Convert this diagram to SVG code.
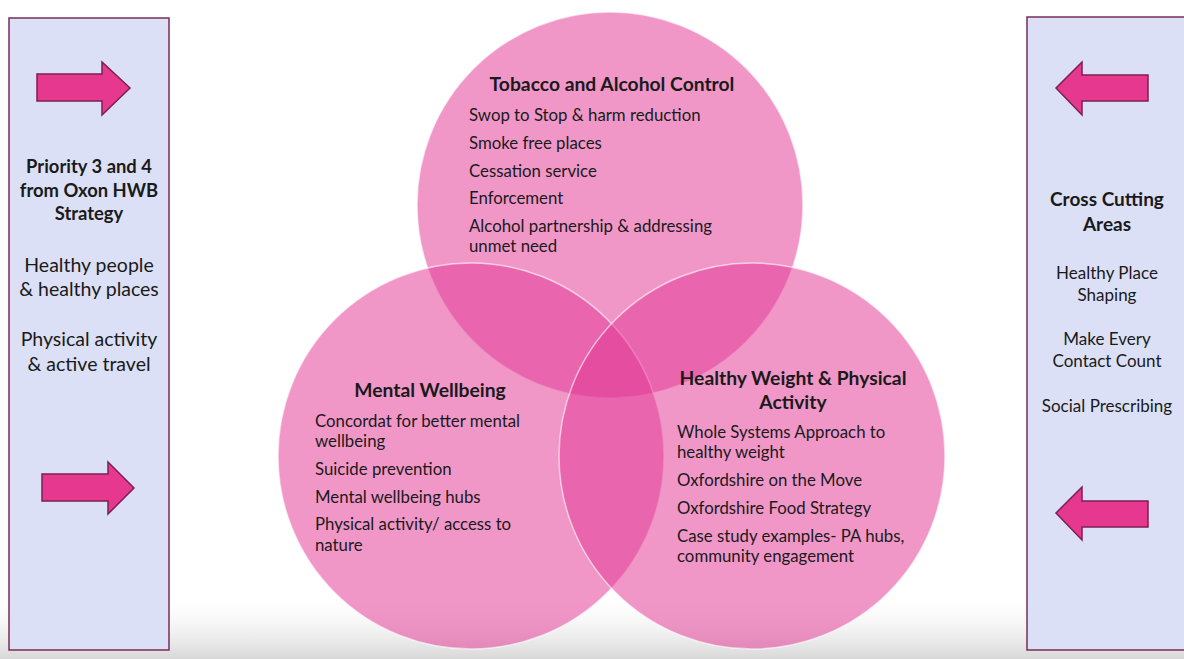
<svg xmlns="http://www.w3.org/2000/svg" width="1184" height="659" viewBox="0 0 1184 659">
<defs>
<style>
.panel{fill:#dbe0f6;stroke:#7a2d55;stroke-width:1.5}
.venn{fill:rgb(226,55,150);fill-opacity:0.52;stroke:#ffffff;stroke-opacity:0.6;stroke-width:1.5}
.arrow{fill:#e6388e;stroke:#7c1f52;stroke-width:1.5;stroke-linejoin:miter}
text{font-family:Lato,"Open Sans","Liberation Sans",sans-serif;fill:#1a1a1a}
.t{font-size:19.3px;font-weight:bold;text-anchor:middle}
.i{font-size:16.8px}
.p{font-size:19.5px;text-anchor:middle}
.pb{font-size:18.4px;font-weight:bold;text-anchor:middle}
.r{font-size:17px;text-anchor:middle}
.rb{font-size:19px;font-weight:bold;text-anchor:middle}
</style>
<linearGradient id="floor" x1="0" y1="0" x2="0" y2="1">
<stop offset="0" stop-color="#ffffff" stop-opacity="0"/>
<stop offset="1" stop-color="#d8d8d8"/>
</linearGradient>
</defs>
<rect x="0" y="0" width="1184" height="659" fill="#ffffff"/>
<rect x="0" y="590" width="1184" height="69" fill="url(#floor)"/>

<g id="left-panel">
<rect class="panel" x="9" y="18" width="160" height="632"/>
<text class="pb" x="89" y="173">Priority 3 and 4</text>
<text class="pb" x="89" y="197">from Oxon HWB</text>
<text class="pb" x="89" y="220">Strategy</text>
<text class="p" x="89" y="272">Healthy people</text>
<text class="p" x="89" y="296">&amp; healthy places</text>
<text class="p" x="89" y="346">Physical activity</text>
<text class="p" x="89" y="371">&amp; active travel</text>
</g>

<g id="right-panel">
<rect class="panel" x="1027" y="17" width="170" height="633"/>
<text class="rb" x="1107" y="206">Cross Cutting</text>
<text class="rb" x="1107" y="231">Areas</text>
<text class="r" x="1107" y="279">Healthy Place</text>
<text class="r" x="1107" y="301">Shaping</text>
<text class="r" x="1107" y="345">Make Every</text>
<text class="r" x="1107" y="367">Contact Count</text>
<text class="r" x="1107" y="412">Social Prescribing</text>
</g>

<g id="circles">
<circle id="c-tobacco" class="venn" cx="610" cy="205" r="193"/>
<circle id="c-mental" class="venn" cx="471" cy="456" r="193"/>
<circle id="c-weight" class="venn" cx="752" cy="456" r="193"/>
</g>

<g id="tobacco">
<text class="t" x="612" y="91">Tobacco and Alcohol Control</text>
<text class="i" x="469" y="121">Swop to Stop &amp; harm reduction</text>
<text class="i" x="469" y="149">Smoke free places</text>
<text class="i" x="469" y="177">Cessation service</text>
<text class="i" x="469" y="204">Enforcement</text>
<text class="i" x="469" y="232">Alcohol partnership &amp; addressing</text>
<text class="i" x="469" y="252">unmet need</text>
</g>

<g id="mental">
<text class="t" x="430" y="397">Mental Wellbeing</text>
<text class="i" x="315" y="427">Concordat for better mental</text>
<text class="i" x="315" y="447">wellbeing</text>
<text class="i" x="315" y="475">Suicide prevention</text>
<text class="i" x="315" y="503">Mental wellbeing hubs</text>
<text class="i" x="315" y="530">Physical activity/ access to</text>
<text class="i" x="315" y="551">nature</text>
</g>

<g id="weight">
<text class="t" x="793" y="385">Healthy Weight &amp; Physical</text>
<text class="t" x="793" y="409">Activity</text>
<text class="i" x="677" y="438">Whole Systems Approach to</text>
<text class="i" x="677" y="458">healthy weight</text>
<text class="i" x="677" y="486">Oxfordshire on the Move</text>
<text class="i" x="677" y="514">Oxfordshire Food Strategy</text>
<text class="i" x="677" y="542">Case study examples- PA hubs,</text>
<text class="i" x="677" y="562">community engagement</text>
</g>

<g id="connectors">
<path class="arrow" d="M37,74 H102 V62 L130,88 L102,115 V101 H37 Z"/>
<path class="arrow" d="M42,474 H108 V462 L134,488 L108,514 V501 H42 Z"/>
<path class="arrow" d="M1148,75 H1082 V62 L1056,88 L1082,115 V101 H1148 Z"/>
<path class="arrow" d="M1148,501 H1082 V487 L1056,513 L1082,540 V527 H1148 Z"/>
</g>
</svg>
